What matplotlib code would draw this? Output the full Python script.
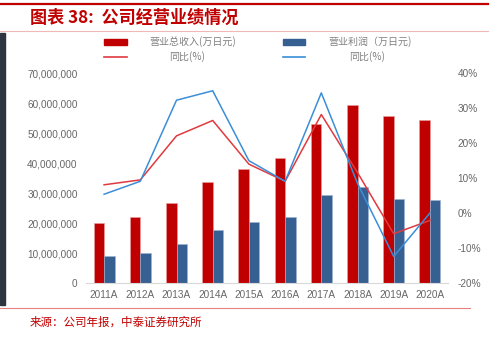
import matplotlib
matplotlib.use("Agg")
import matplotlib.pyplot as plt
import numpy as np
from matplotlib.ticker import FuncFormatter
from matplotlib.patches import Rectangle
from matplotlib.lines import Line2D

plt.rcParams['font.family'] = ['Liberation Sans', 'Noto Sans CJK SC', 'DejaVu Sans']

years = ['2011A', '2012A', '2013A', '2014A', '2015A', '2016A', '2017A', '2018A', '2019A', '2020A']
revenue = [20.0e6, 22.0e6, 26.7e6, 33.7e6, 38.2e6, 41.6e6, 53.2e6, 59.3e6, 55.6e6, 54.3e6]
profit = [9.1e6, 9.9e6, 13.1e6, 17.6e6, 20.3e6, 22.1e6, 29.4e6, 32.0e6, 28.0e6, 27.8e6]
rev_yoy = [8.1, 9.5, 22.1, 26.5, 14.0, 9.1, 28.2, 11.6, -5.9, -2.1]
prof_yoy = [5.4, 9.1, 32.3, 35.0, 15.0, 9.1, 34.4, 8.5, -12.4, 0.0]

RED = '#C00000'
BLUE = '#376092'
RED_L = '#E0393E'
BLUE_L = '#3B8ED8'
GRAY = '#666666'

W, H = 499, 338
fig = plt.figure(figsize=(W / 100, H / 100), dpi=100)

def fx(px):
    return px / W

def fy(py):
    return 1 - py / H

ax = fig.add_axes([fx(86), fy(283), fx(448) - fx(86), fy(73.3) - fy(283)])
x = np.arange(len(years))
bw = 0.29
ax.bar(x - bw / 2, revenue, width=bw, color=RED, edgecolor='#E8A0A0', linewidth=0.4, zorder=2)
ax.bar(x + bw / 2, profit, width=bw, color=BLUE, edgecolor='#9DB3D0', linewidth=0.4, zorder=2)
ax.set_xlim(-0.5, len(years) - 0.5)
ax.set_ylim(0, 70e6)
ax.set_yticks(np.arange(0, 70e6 + 1, 10e6))
ax.yaxis.set_major_formatter(FuncFormatter(lambda v, p: f'{int(v):,}'))
ax.set_xticks(x)
ax.set_xticklabels(years)
for s in ['top', 'right', 'left']:
    ax.spines[s].set_visible(False)
ax.spines['bottom'].set_color('#D9D9D9')
ax.spines['bottom'].set_linewidth(0.8)
ax.tick_params(axis='both', length=0, colors=GRAY, labelsize=7.2)
ax.tick_params(axis='y', pad=6)
ax.tick_params(axis='x', pad=5)

ax2 = ax.twinx()
ax2.plot(x, rev_yoy, color=RED_L, linewidth=1.1, zorder=3)
ax2.plot(x, prof_yoy, color=BLUE_L, linewidth=1.1, zorder=3)
ax2.set_ylim(-20, 40)
ax2.set_yticks(np.arange(-20, 41, 10))
ax2.yaxis.set_major_formatter(FuncFormatter(lambda v, p: f'{int(v)}%'))
for s in ['top', 'right', 'left', 'bottom']:
    ax2.spines[s].set_visible(False)
ax2.tick_params(axis='y', length=0, colors=GRAY, labelsize=7.2, pad=7)

# legend (manual)
cjk = ['Noto Sans CJK SC', 'DejaVu Sans']
lg = '#808080'
r1, r2 = fy(41.7), fy(56.7)
fig.patches.append(Rectangle((fx(104), r1 - 3 / H), fx(23), 6 / H, transform=fig.transFigure, color=RED))
fig.patches.append(Rectangle((fx(283), r1 - 3 / H), fx(22), 6 / H, transform=fig.transFigure, color=BLUE))
fig.lines.append(Line2D([fx(104), fx(127)], [r2, r2], transform=fig.transFigure, color=RED_L, lw=1.2))
fig.lines.append(Line2D([fx(283), fx(305)], [r2, r2], transform=fig.transFigure, color=BLUE_L, lw=1.2))
fig.text(fx(193), r1, '营业总收入(万日元)', ha='center', va='center', fontsize=7.2, color=lg, family=cjk)
fig.text(fx(370), r1, '营业利润（万日元)', ha='center', va='center', fontsize=7.2, color=lg, family=cjk)
fig.text(fx(187), r2, '同比(%)', ha='center', va='center', fontsize=7.2, color=lg, family=cjk)
fig.text(fx(367), r2, '同比(%)', ha='center', va='center', fontsize=7.2, color=lg, family=cjk)

# title and decorations
fig.lines.append(Line2D([0, fx(488)], [fy(3.5), fy(3.5)], transform=fig.transFigure, color='#C00000', lw=1.6))
fig.lines.append(Line2D([0, fx(488)], [fy(31), fy(31)], transform=fig.transFigure, color='#F2B8B8', lw=0.8))
fig.text(fx(30), fy(18), '图表 38:  公司经营业绩情况', ha='left', va='center', fontsize=12.3, color='#C00000',
         fontweight='bold', style='italic', family=cjk)
fig.patches.append(Rectangle((0, fy(305)), fx(5), fy(33) - fy(305), transform=fig.transFigure, color='#2F3540'))
fig.lines.append(Line2D([0, fx(470)], [fy(308), fy(308)], transform=fig.transFigure, color='#E88080', lw=0.8))
fig.text(fx(30), fy(322), '来源：公司年报，中泰证券研究所', ha='left', va='center', fontsize=8.3, color='#C00000', family=cjk)

fig.savefig('out.png', dpi=100)
